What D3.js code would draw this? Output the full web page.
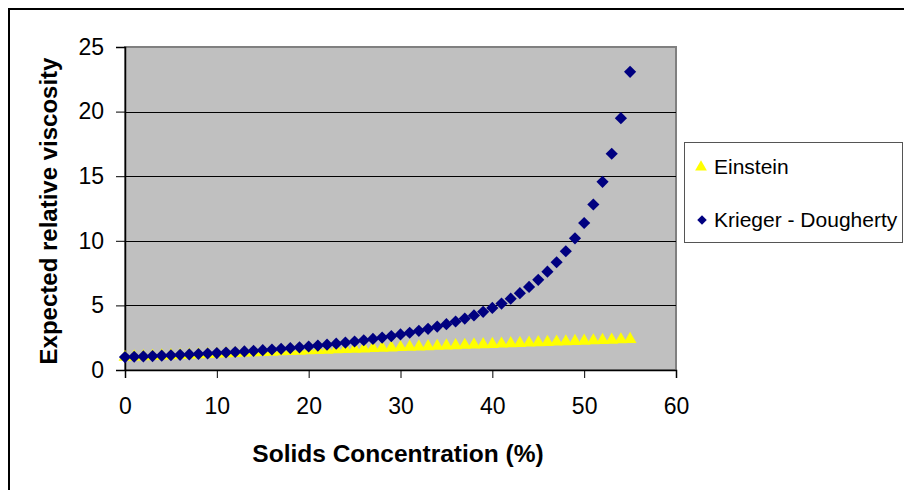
<!DOCTYPE html>
<html>
<head>
<meta charset="utf-8">
<script src="https://cdn.jsdelivr.net/npm/d3@7"></script>
<style>
  html, body { margin: 0; padding: 0; background: #fff; }
  svg { display: block; }
  text { font-family: Arial, "Liberation Sans", sans-serif; fill: #000; }
</style>
</head>
<body>
<svg id="chart" width="904" height="490"></svg>
<script>
// ---- data ----
const concentration = [0,1,2,3,4,5,6,7,8,9,10,11,12,13,14,15,16,17,18,19,20,21,22,23,24,25,26,27,28,29,30,31,32,33,34,35,36,37,38,39,40,41,42,43,44,45,46,47,48,49,50,51,52,53,54,55];
const einstein = [1.000,1.025,1.050,1.075,1.100,1.125,1.150,1.175,1.200,1.225,1.250,1.275,1.300,1.325,1.350,1.375,1.400,1.425,1.450,1.475,1.500,1.525,1.550,1.575,1.600,1.625,1.650,1.675,1.700,1.725,1.750,1.775,1.800,1.825,1.850,1.875,1.900,1.925,1.950,1.975,2.000,2.025,2.050,2.075,2.100,2.125,2.150,2.175,2.200,2.225,2.250,2.275,2.300,2.325,2.350,2.375];
const kriegerDougherty = [1.000,1.026,1.052,1.080,1.109,1.139,1.171,1.204,1.238,1.274,1.312,1.352,1.394,1.438,1.484,1.533,1.585,1.639,1.696,1.757,1.821,1.889,1.962,2.039,2.121,2.209,2.303,2.403,2.511,2.627,2.751,2.886,3.031,3.189,3.361,3.549,3.754,3.979,4.226,4.500,4.804,5.142,5.521,5.948,6.430,6.981,7.611,8.340,9.190,10.189,11.379,12.811,14.562,16.737,19.490,23.080];
const seriesNames = ["Einstein", "Krieger - Dougherty"];
const xTicks = [0,10,20,30,40,50,60];
const yTicks = [0,5,10,15,20,25];
const xTitle = "Solids Concentration (%)";
const yTitle = "Expected relative viscosity";

// ---- layout ----
const svg = d3.select("#chart");
const plot = { left: 125, top: 47, right: 676, bottom: 370 };
const x = d3.scaleLinear().domain([0, 60]).range([plot.left, plot.right]);
const y = d3.scaleLinear().domain([0, 25]).range([plot.bottom, plot.top]);
const font = 'Arial, "Liberation Sans", sans-serif';

// chart frame (cut off at right/bottom in the reference)
svg.append("rect").attr("x", 9).attr("y", 9).attr("width", 1000).attr("height", 1000)
  .attr("fill", "#fff").attr("stroke", "#000").attr("stroke-width", 2);

// plot area background
svg.append("rect").attr("x", plot.left).attr("y", plot.top)
  .attr("width", plot.right - plot.left).attr("height", plot.bottom - plot.top)
  .attr("fill", "#C0C0C0").attr("stroke", "#808080").attr("stroke-width", 2);

// gridlines
svg.append("g").selectAll("line").data(yTicks.filter(t => t > 0 && t < 25)).join("line")
  .attr("x1", plot.left).attr("x2", plot.right)
  .attr("y1", d => Math.round(y(d)) + 0.5).attr("y2", d => Math.round(y(d)) + 0.5)
  .attr("stroke", "#000").attr("stroke-width", 1);

// axes
const yAxis = svg.append("g").attr("transform", `translate(${plot.left},0)`)
  .call(d3.axisLeft(y).tickValues(yTicks).tickSize(9).tickPadding(12).tickFormat(d3.format("d")));
const xAxis = svg.append("g").attr("transform", `translate(0,${plot.bottom})`)
  .call(d3.axisBottom(x).tickValues(xTicks).tickSize(8).tickPadding(20).tickFormat(d3.format("d")));
[yAxis, xAxis].forEach(a => {
  a.selectAll("path.domain").attr("stroke", "#000").attr("stroke-width", 1.5);
  a.selectAll(".tick line").attr("stroke", "#000");
  a.selectAll("text").attr("font-size", 23).attr("font-family", font).attr("fill", "#000");
});

// series: Einstein (yellow triangles)
const tri = d3.symbol().type(d3.symbolTriangle).size(72);
svg.append("g").selectAll("path").data(concentration).join("path")
  .attr("d", tri)
  .attr("transform", (d, i) => `translate(${x(d)},${y(einstein[i])})`)
  .attr("fill", "#FFFF00");

// series: Krieger - Dougherty (navy diamonds)
const diamond = d3.symbol().type(d3.symbolSquare).size(74);
svg.append("g").selectAll("path").data(concentration).join("path")
  .attr("d", diamond)
  .attr("transform", (d, i) => `translate(${x(d)},${y(kriegerDougherty[i])}) rotate(45)`)
  .attr("fill", "#000080");

// axis titles
svg.append("text").attr("x", 398).attr("y", 462).attr("text-anchor", "middle")
  .attr("font-size", 24.5).attr("font-weight", "bold").attr("font-family", font).text(xTitle);
svg.append("text").attr("transform", "translate(57,211) rotate(-90)").attr("text-anchor", "middle")
  .attr("font-size", 24).attr("font-weight", "bold").attr("font-family", font).text(yTitle);

// legend
const lg = svg.append("g");
lg.append("rect").attr("x", 684.5).attr("y", 142.5).attr("width", 218).attr("height", 100)
  .attr("fill", "#fff").attr("stroke", "#555").attr("stroke-width", 1);
lg.append("path").attr("d", d3.symbol().type(d3.symbolTriangle).size(60))
  .attr("transform", "translate(701,167)").attr("fill", "#FFFF00");
lg.append("path").attr("d", d3.symbol().type(d3.symbolSquare).size(45))
  .attr("transform", "translate(702,220) rotate(45)").attr("fill", "#000080");
lg.append("text").attr("x", 714).attr("y", 174).attr("font-size", 21).attr("font-family", font).text(seriesNames[0]);
lg.append("text").attr("x", 714).attr("y", 227).attr("font-size", 21).attr("font-family", font).text(seriesNames[1]);
</script>
</body>
</html>
